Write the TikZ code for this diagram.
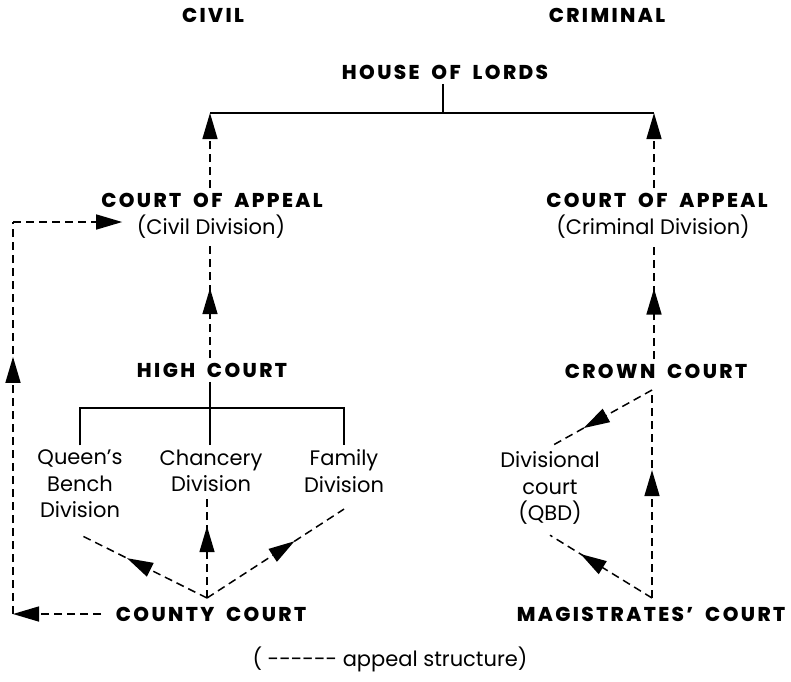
\documentclass[tikz,border=0pt]{standalone}
\usepackage{fontspec}
\setmainfont{Poppins}
\IfFontExistsTF{Poppins ExtraBold}
  {\newfontfamily\headfont[LetterSpace=12,WordSpace=1.9,BoldFont={Poppins ExtraBold}]{Poppins}}
  {\newfontfamily\headfont[LetterSpace=12,WordSpace=1.9]{Poppins}}
\usetikzlibrary{arrows.meta,decorations.markings}

\tikzset{
  court/.style={font=\headfont\bfseries\fontsize{10}{12}\selectfont, inner sep=2pt},
  division/.style={font=\fontsize{10.5}{13.25}\selectfont, align=center, inner sep=2pt},
  appeal/.style={dash pattern=on 4pt off 2.5pt},
  endarrow/.style={-{Triangle[length=13pt,width=7.5pt]}},
  midarrow/.style={postaction={decorate}, decoration={markings,
      mark=at position #1 with {\arrow{Triangle[length=13pt,width=7.5pt]}}}},
}

\begin{document}
\begin{tikzpicture}[x=0.5pt, y=-0.5pt, line width=0.75pt]
  %%%%% START %%%%%
  \useasboundingbox (0,0) rectangle (791,681);

  \node[court] (civil) at (213,15) {CIVIL};
  \node[court] (criminal) at (607,15) {CRIMINAL};
  \node[court] (lords) at (445,72) {HOUSE OF LORDS};

  \node[court] (coac) at (212,200) {COURT OF APPEAL};
  \node[division] (coacdiv) at (211,227) {(Civil Division)};
  \node[court] (coar) at (657,200) {COURT OF APPEAL};
  \node[division] (coardiv) at (653,227) {(Criminal Division)};

  \node[court] (high) at (212,370) {HIGH COURT};
  \node[division] (qbd) at (80,484) {Queen’s\\Bench\\Division};
  \node[division] (chd) at (211,471) {Chancery\\Division};
  \node[division] (fad) at (344,471) {Family\\Division};
  \node[court] (county) at (211,614) {COUNTY COURT};

  \node[court] (crown) at (656,371) {CROWN COURT};
  \node[division] (divc) at (550,488) {Divisional\\court\\(QBD)};
  \node[court] (magis) at (651,614) {MAGISTRATES’ COURT};

  \node[division] (key) at (390,659) {( -{}-{}-{}-{}-{}- appeal structure)};

  \coordinate (lordsfoot) at (443,113);
  \coordinate (civtop) at (210,113);
  \coordinate (crimtop) at (654,113);
  \coordinate (hcbar) at (210,408);
  \coordinate (ccapex) at (207,598);
  \coordinate (loopbot) at (13,612);
  \coordinate (looptop) at (13,222);
  \coordinate (crownfoot) at (652,390);
  \coordinate (magapex) at (652,598);

  % house of lords
  \draw (lords.south -| lordsfoot) -- (lordsfoot);
  \draw (civtop) -- (crimtop);
  \draw[appeal,endarrow] (coac.north -| civtop) -- (civtop);
  \draw[appeal,endarrow] (coar.north -| crimtop) -- (crimtop);

  % civil side
  \draw[appeal,midarrow=0.61] (high.north -| civtop) -- (coacdiv.south -| civtop);
  \draw (high.south -| hcbar) -- (hcbar);
  \draw (qbd.north) |- (hcbar) -| (fad.north);
  \draw (chd.north -| hcbar) -- (hcbar);

  \draw[appeal,midarrow=0.71] (ccapex) -- (chd.south -| ccapex);
  \draw[appeal,midarrow=0.63] (ccapex) -- ([yshift=-6pt]qbd.south);
  \draw[appeal,midarrow=0.64] (ccapex) -- ([yshift=-6pt]fad.south);

  \draw[appeal,endarrow] ([xshift=-5pt]county.west) -- (county.west -| loopbot);
  \draw[appeal,midarrow=0.656] (county.west -| loopbot) -- (looptop);
  \draw[appeal,endarrow] (looptop) -- ([xshift=-5pt]looptop -| coacdiv.west);

  % criminal side
  \draw[appeal,midarrow=0.61] (crown.north -| crimtop) -- (coardiv.south -| crimtop);
  \draw[appeal,midarrow=0.67] (crownfoot) -- (divc.north);
  \draw[appeal,midarrow=0.615] (magapex) -- (crownfoot);
  \draw[appeal,midarrow=0.70] (magapex) -- ([yshift=-3pt]divc.south);

  %%%%% END %%%%%
\end{tikzpicture}
\end{document}
